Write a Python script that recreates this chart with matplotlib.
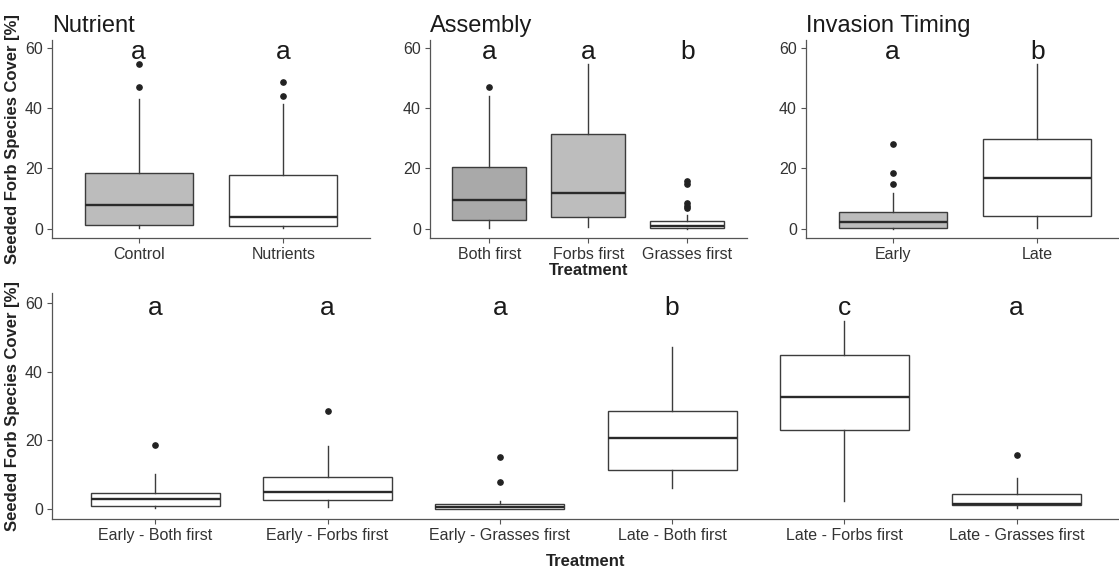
import matplotlib.pyplot as plt

plt.rcParams['font.family'] = ['Liberation Sans', 'DejaVu Sans']

# --- data (box stats, % cover) ---
# Nutrient
nut_labels = ['Control', 'Nutrients']
nut_whislo = [0.2, 0.2]
nut_q1 = [1.3, 1.0]
nut_med = [7.9, 3.9]
nut_q3 = [18.6, 17.8]
nut_whishi = [42.9, 41.3]
nut_fliers = [[47.1, 54.5], [43.9, 48.7]]
nut_fill = ['#bcbcbc', '#ffffff']
nut_letters = ['a', 'a']

# Assembly
asm_labels = ['Both first', 'Forbs first', 'Grasses first']
asm_whislo = [0.2, 0.6, 0.0]
asm_q1 = [3.0, 3.9, 0.2]
asm_med = [9.6, 12.0, 1.1]
asm_q3 = [20.6, 31.3, 2.7]
asm_whishi = [44.0, 54.5, 4.6]
asm_fliers = [[47.1], [], [6.8, 7.6, 8.5, 15.0, 15.8]]
asm_fill = ['#a9a9a9', '#bdbdbd', '#ffffff']
asm_letters = ['a', 'a', 'b']

# Invasion timing
inv_labels = ['Early', 'Late']
inv_whislo = [0.0, 0.2]
inv_q1 = [0.3, 4.3]
inv_med = [2.2, 16.8]
inv_q3 = [5.6, 29.9]
inv_whishi = [11.8, 54.5]
inv_fliers = [[14.8, 18.4, 28.1], []]
inv_fill = ['#bcbcbc', '#ffffff']
inv_letters = ['a', 'b']

# Timing x assembly
int_labels = ['Early - Both first', 'Early - Forbs first', 'Early - Grasses first',
              'Late - Both first', 'Late - Forbs first', 'Late - Grasses first']
int_whislo = [0.3, 0.8, 0.0, 6.3, 2.4, 0.5]
int_q1 = [1.0, 2.6, 0.0, 11.3, 23.1, 1.25]
int_med = [2.9, 5.1, 0.8, 20.8, 32.5, 1.4]
int_q3 = [4.6, 9.5, 1.6, 28.5, 44.9, 4.4]
int_whishi = [10.2, 18.5, 2.5, 47.2, 54.7, 9.0]
int_fliers = [[18.8], [28.5], [8.0, 15.2], [], [], [15.8]]
int_fill = ['#ffffff'] * 6
int_letters = ['a', 'a', 'a', 'b', 'c', 'a']

W, H = 1119, 571
fig = plt.figure(figsize=(W / 100, H / 100), dpi=100)

EDGE = '#3c3c3c'
AX = '#555555'
TXT = '#333333'


def px_axes(x0, x1, y0, y1):
    return fig.add_axes([x0 / W, 1 - y1 / H, (x1 - x0) / W, (y1 - y0) / H])


def draw(ax, labels, lo, q1, med, q3, hi, fl, fills, letters, ylim):
    stats = []
    for i in range(len(labels)):
        stats.append(dict(label=labels[i], whislo=lo[i], q1=q1[i], med=med[i],
                          q3=q3[i], whishi=hi[i], fliers=fl[i]))
    pos = list(range(1, len(labels) + 1))
    bp = ax.bxp(stats, positions=pos, widths=0.75, patch_artist=True,
                showcaps=False,
                boxprops=dict(edgecolor=EDGE, linewidth=1.0),
                whiskerprops=dict(color=EDGE, linewidth=1.0),
                medianprops=dict(color='#2a2a2a', linewidth=1.7),
                flierprops=dict(marker='o', markerfacecolor='#222222',
                                markeredgecolor='#222222', markersize=3.8))
    for b, c in zip(bp['boxes'], fills):
        b.set_facecolor(c)
    for p, l in zip(pos, letters):
        ax.text(p, 56.3, l, ha='center', va='baseline', fontsize=19, color='#1a1a1a')
    ax.set_xlim(0.4, len(labels) + 0.6)
    ax.set_ylim(*ylim)
    ax.set_yticks([0, 20, 40, 60])
    for s in ['top', 'right']:
        ax.spines[s].set_visible(False)
    for s in ['left', 'bottom']:
        ax.spines[s].set_color(AX)
        ax.spines[s].set_linewidth(0.9)
    ax.tick_params(colors=AX, labelcolor=TXT, labelsize=11.5, length=3.5, width=0.8, pad=3)
    ax.set_facecolor('none')


ax1 = px_axes(52, 370, 40, 237.7)
draw(ax1, nut_labels, nut_whislo, nut_q1, nut_med, nut_q3, nut_whishi, nut_fliers,
     nut_fill, nut_letters, (-2.9, 62.5))
ax1.set_title('Nutrient', loc='left', fontsize=17, color='#1a1a1a', pad=6)
ax1.set_ylabel('Seeded Forb Species Cover [%]', fontsize=12, fontweight='bold',
               color='#222222', labelpad=4)

ax2 = px_axes(430, 746.7, 40, 237.7)
draw(ax2, asm_labels, asm_whislo, asm_q1, asm_med, asm_q3, asm_whishi, asm_fliers,
     asm_fill, asm_letters, (-2.9, 62.5))
ax2.set_title('Assembly', loc='left', fontsize=17, color='#1a1a1a', pad=6)
ax2.set_xlabel('Treatment', fontsize=12, fontweight='bold', color='#222222', labelpad=1)

ax3 = px_axes(806, 1124, 40, 237.7)
draw(ax3, inv_labels, inv_whislo, inv_q1, inv_med, inv_q3, inv_whishi, inv_fliers,
     inv_fill, inv_letters, (-2.9, 62.5))
ax3.set_title('Invasion Timing', loc='left', fontsize=17, color='#1a1a1a', pad=6)

ax4 = px_axes(52, 1120, 292.7, 519.3)
draw(ax4, int_labels, int_whislo, int_q1, int_med, int_q3, int_whishi, int_fliers,
     int_fill, int_letters, (-2.9, 62.9))
ax4.set_ylabel('Seeded Forb Species Cover [%]', fontsize=12, fontweight='bold',
               color='#222222', labelpad=4)
ax4.set_xlabel('Treatment', fontsize=12, fontweight='bold', color='#222222', labelpad=8)

fig.savefig('out.png', dpi=100)
